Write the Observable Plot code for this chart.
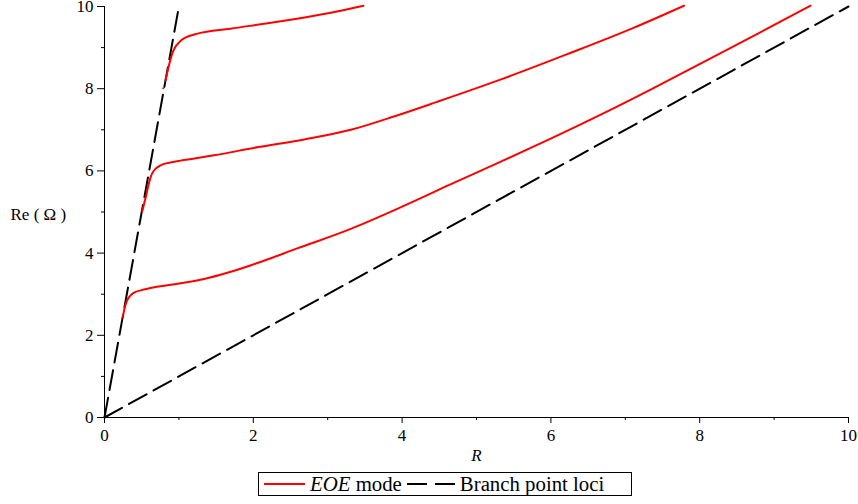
<!DOCTYPE html>
<html>
<head>
<meta charset="utf-8">
<script src="https://cdn.jsdelivr.net/npm/d3@7"></script>
<script src="https://cdn.jsdelivr.net/npm/@observablehq/plot@0.6"></script>
<style>
  html, body { margin: 0; padding: 0; background: white; }
  #wrap { position: relative; width: 858px; height: 504px; font-family: "Liberation Serif", "Times New Roman", serif; }
  #legend { position: absolute; left: 258px; top: 472px; width: 368px; height: 22px; border: 1px solid black; display: flex; align-items: center; font-size: 20.8px; padding: 0 0 0 4px; box-sizing: content-box; white-space: nowrap; background: white; overflow: hidden; }
  #legend svg { display: block; }
</style>
</head>
<body>
<div id="wrap">
  <div id="chart"></div>
  <div id="legend">
    <svg width="42" height="10"><line x1="1" y1="5" x2="42" y2="5" stroke="red" stroke-width="2"/></svg>
    <span style="margin-left:5px"><i>EOE</i> mode</span>
    <svg width="48" height="10" style="margin-left:5px"><line x1="0" y1="5" x2="48" y2="5" stroke="black" stroke-width="2" stroke-dasharray="20,8"/></svg>
    <span style="margin-left:5px">Branch point loci</span>
  </div>
</div>
<script>
// Ticks
const majorTicks = [0, 2, 4, 6, 8, 10];
const minorTicks = [1, 3, 5, 7, 9];

// EOE mode curves (R, Re(Ω))
const curve1R = [0.246, 0.27, 0.30, 0.34, 0.40, 0.50, 0.67, 1.0, 1.34, 1.65, 1.96, 2.6, 3.31, 4.0, 4.65, 5.32, 5.99, 6.67, 7.34, 8.01, 8.75, 9.49];
const curve1W = [2.44, 2.66, 2.83, 2.95, 3.04, 3.10, 3.17, 3.26, 3.37, 3.52, 3.70, 4.12, 4.59, 5.13, 5.67, 6.22, 6.78, 7.37, 7.98, 8.61, 9.31, 10.02];

const curve2R = [0.507, 0.535, 0.565, 0.59, 0.62, 0.65, 0.685, 0.74, 0.80, 0.9, 1.02, 1.47, 2.07, 2.7, 3.31, 3.9, 4.47, 5.32, 6.22, 7.11, 7.79];
const curve2W = [5.01, 5.22, 5.44, 5.65, 5.85, 5.97, 6.05, 6.12, 6.17, 6.21, 6.25, 6.38, 6.58, 6.77, 7.00, 7.33, 7.68, 8.22, 8.84, 9.48, 10.02];

const curve3R = [0.82, 0.85, 0.89, 0.92, 0.95, 1.0, 1.04, 1.12, 1.25, 1.69, 2.37, 3.04, 3.48];
const curve3W = [8.2, 8.45, 8.73, 8.9, 9.01, 9.12, 9.19, 9.27, 9.34, 9.46, 9.64, 9.85, 10.02];

const dotR = [0.79];
const dotW = [8.01];

// Branch point loci
const branch1R = [0, 1];
const branch1W = [0, 10];
const branch2R = [0, 10];
const branch2W = [0, 10];

const toPts = (xs, ys, s) => xs.map((x, i) => ({x, y: ys[i], s}));
const curves = [
  ...toPts(curve1R, curve1W, "c1"),
  ...toPts(curve2R, curve2W, "c2"),
  ...toPts(curve3R, curve3W, "c3")
];
const branches = [
  ...toPts(branch1R, branch1W, "b1"),
  ...toPts(branch2R, branch2W, "b2")
];
const dots = toPts(dotR, dotW, "d");

const chart = Plot.plot({
  width: 858,
  height: 470,
  marginLeft: 104,
  marginRight: 10,
  marginTop: 6,
  marginBottom: 53,
  x: {domain: [0, 10]},
  y: {domain: [0, 10]},
  style: {fontFamily: "'Liberation Serif', 'Times New Roman', serif", fontSize: "17px", background: "white", color: "black", overflow: "visible"},
  marks: [
    Plot.axisX({ticks: majorTicks, tickSize: 6, tickPadding: 5, label: null, fontSize: 17}),
    Plot.axisX({ticks: minorTicks, tickSize: 3, tickFormat: () => "", label: null}),
    Plot.axisY({ticks: majorTicks, tickSize: 7, tickPadding: 4, label: null, fontSize: 17}),
    Plot.axisY({ticks: minorTicks, tickSize: 3, tickFormat: () => "", label: null}),
    Plot.ruleY([0], {x1: 0, x2: 10, stroke: "black"}),
    Plot.ruleX([0], {y1: 0, y2: 10, stroke: "black"}),
    Plot.line(branches, {x: "x", y: "y", z: "s", stroke: "black", strokeWidth: 2, strokeDasharray: "20,8"}),
    Plot.line(curves, {x: "x", y: "y", z: "s", stroke: "red", strokeWidth: 2, curve: "monotone-x"}),
    Plot.dot(dots, {x: "x", y: "y", r: 1, fill: "red"}),
    Plot.text(["Re ( Ω )"], {text: d => d, frameAnchor: "left", dx: -94, dy: 3, textAnchor: "start", fontSize: 17}),
    Plot.text(["R"], {text: d => d, frameAnchor: "bottom", dy: 43, fontStyle: "italic", fontSize: 17})
  ]
});
document.getElementById("chart").appendChild(chart);
</script>
</body>
</html>
